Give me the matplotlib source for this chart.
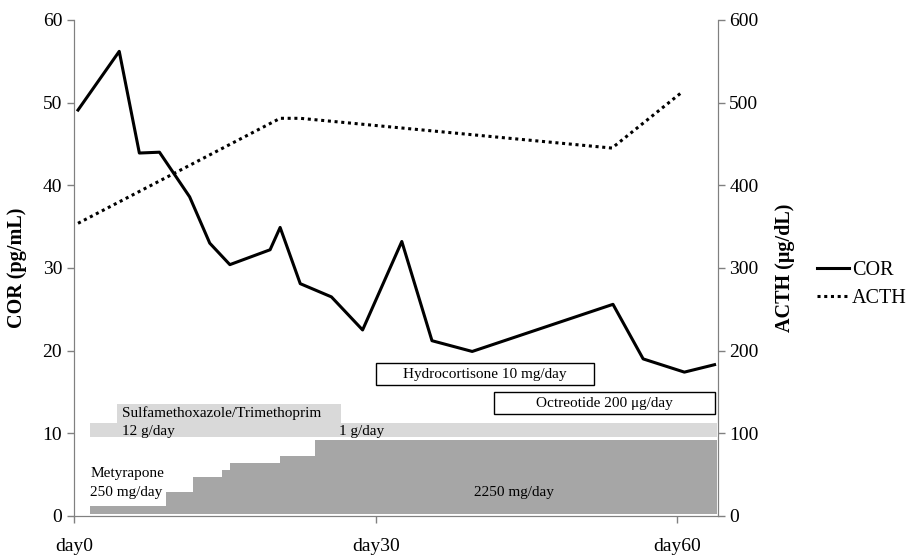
import numpy as np
import matplotlib.pyplot as plt

plt.rcParams['font.family'] = ['Liberation Serif', 'DejaVu Serif']

# COR (left axis)
cor_day = [0.4, 4.5, 6.5, 8.5, 11.5, 13.5, 15.5, 19.5, 20.5, 22.5, 25.6, 28.7,
           32.6, 35.6, 39.6, 53.6, 56.6, 60.7, 63.7]
cor_val = [49.1, 56.2, 43.9, 44.0, 38.6, 33.0, 30.4, 32.2, 34.9, 28.1, 26.5, 22.5,
           33.2, 21.2, 19.9, 25.6, 19.0, 17.4, 18.3]

# ACTH (right axis)
acth_day = [0.4, 20.5, 22.5, 53.5, 60.5]
acth_val = [354, 481, 481, 445, 513]

# metyrapone dose steps (drawn on COR scale)
mety_edges = [1.6, 9.1, 11.8, 14.7, 15.5, 20.5, 24.0, 63.9]
mety_top = [1.2, 2.9, 4.7, 5.6, 6.4, 7.3, 9.2]
mety_base = 0.3

# sulfamethoxazole/trimethoprim bands
st_low = (1.6, 63.9, 9.5, 11.3)
st_high = (4.3, 26.6, 11.3, 13.6)

# text boxes: (label, day start, day end, low, high)
boxes = [("Hydrocortisone 10 mg/day", 30.0, 51.7, 15.8, 18.5),
         ("Octreotide 200 \u03bcg/day", 41.8, 63.7, 12.3, 15.0)]

xticks = [0, 30, 60]
xlabels = ["day0", "day30", "day60"]

fig = plt.figure(figsize=(9.09, 5.58), dpi=100)
ax = fig.add_axes([0.0814, 0.0753, 0.708, 0.889])
ax2 = ax.twinx()

dark = "#a6a6a6"
light = "#d9d9d9"

# metyrapone steps
for i in range(len(mety_top)):
    ax.fill_between([mety_edges[i], mety_edges[i + 1]], mety_base, mety_top[i],
                    color=dark, linewidth=0, zorder=1)

# sulfamethoxazole
for b in (st_low, st_high):
    ax.fill_between([b[0], b[1]], b[2], b[3], color=light, linewidth=0, zorder=1)

for label, x0, x1, y0, y1 in boxes:
    ax.add_patch(plt.Rectangle((x0, y0), x1 - x0, y1 - y0, facecolor="white",
                               edgecolor="black", linewidth=1.0, zorder=2))
    ax.text((x0 + x1) / 2, (y0 + y1) / 2, label, ha="center", va="center",
            fontsize=11, zorder=3)

ax.text(4.8, 12.45, "Sulfamethoxazole/Trimethoprim", fontsize=11, va="center")
ax.text(4.8, 10.2, "12 g/day", fontsize=11, va="center")
ax.text(26.4, 10.2, "1 g/day", fontsize=11, va="center")
ax.text(1.6, 5.1, "Metyrapone", fontsize=11, va="center")
ax.text(1.6, 2.9, "250 mg/day", fontsize=11, va="center")
ax.text(43.8, 2.9, "2250 mg/day", fontsize=11, ha="center", va="center")

l1, = ax.plot(cor_day, cor_val, color="black", linewidth=2.2, zorder=4, label="COR")
l2, = ax2.plot(acth_day, acth_val, color="black", linewidth=2.2, linestyle=(0, (1, 1.2)),
               label="ACTH")

ax.set_xlim(0, 64)
ax.set_ylim(0, 60)
ax2.set_ylim(0, 600)
ax.set_yticks(np.arange(0, 61, 10))
ax2.set_yticks(np.arange(0, 601, 100))
ax.set_xticks(xticks)
ax.set_xticklabels(xlabels)

for a in (ax, ax2):
    for s in a.spines.values():
        s.set_color("#808080")
    a.spines["top"].set_visible(False)
    a.tick_params(axis="both", labelsize=14, color="#808080", length=5, width=1)
ax.tick_params(axis="x", labelsize=14, pad=11)

ax.set_ylabel("COR (pg/mL)", fontsize=14.5, fontweight="bold")
ax.yaxis.set_label_coords(-0.073, 0.5)
ax2.set_ylabel("ACTH (\u03bcg/dL)", fontsize=14.5, fontweight="bold")
ax2.yaxis.set_label_coords(1.090, 0.5)

fig.legend(handles=[l1, l2], loc="center left", bbox_to_anchor=(0.894, 0.49),
           frameon=False, fontsize=14.5, handlelength=1.6, handletextpad=0.15,
           labelspacing=0.45, borderpad=0.2, borderaxespad=0)

fig.savefig("out.png", dpi=100)
